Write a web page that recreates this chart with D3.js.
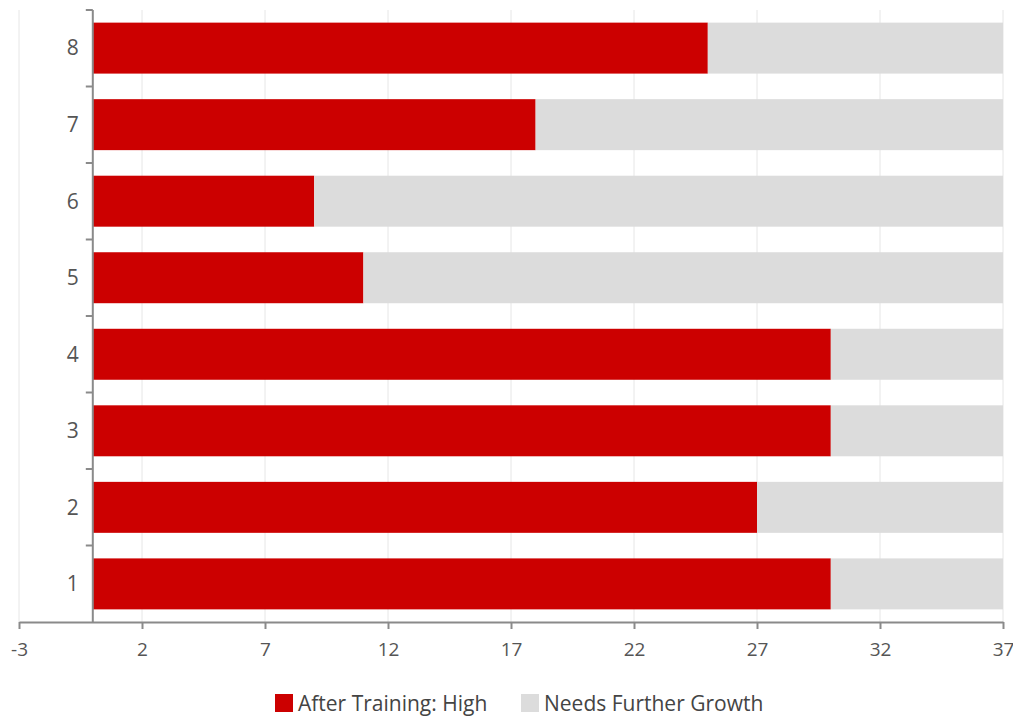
<!DOCTYPE html>
<html><head><meta charset="utf-8">
<script src="https://cdn.jsdelivr.net/npm/d3@7"></script>
<style>body{margin:0;background:#fff;} text{font-family:"Open Sans",sans-serif;}</style>
</head><body><svg id="c" width="1013" height="716"></svg>
<script>
const categories = ["1","2","3","4","5","6","7","8"];
const afterTraining = [30, 27, 30, 30, 11, 9, 18, 25];
const needsGrowth = [7, 10, 7, 7, 26, 28, 19, 12];
const xTicks = [-3, 2, 7, 12, 17, 22, 27, 32, 37];
const seriesNames = ["After Training: High", "Needs Further Growth"];
const colors = ["#cc0000", "#dcdcdc"];

const svg = d3.select("#c");
const x = d3.scaleLinear().domain([-3, 37]).range([19, 1003]);
const y = d3.scaleBand().domain(categories.slice().reverse()).range([10, 622]).paddingInner(0.334).paddingOuter(0.165);
const yb = d3.scaleBand().domain(categories.slice().reverse()).range([10, 622]);

// gridlines
svg.append("g").selectAll("line").data(xTicks).join("line")
  .attr("x1", d => x(d)).attr("x2", d => x(d)).attr("y1", 10).attr("y2", 622)
  .attr("stroke", "#e6e6e6").attr("stroke-width", 1);

const rows = categories.map((c, i) => ({c, a: afterTraining[i], b: needsGrowth[i]}));
const g = svg.append("g");
g.selectAll("rect.a").data(rows).join("rect").attr("class","a")
  .attr("x", x(0)).attr("y", d => y(d.c)).attr("height", y.bandwidth())
  .attr("width", d => x(d.a) - x(0)).attr("fill", colors[0]);
g.selectAll("rect.b").data(rows).join("rect").attr("class","b")
  .attr("x", d => x(d.a)).attr("y", d => y(d.c)).attr("height", y.bandwidth())
  .attr("width", d => x(d.a + d.b) - x(d.a)).attr("fill", colors[1]);

// x axis
const xa = svg.append("g").attr("transform", "translate(0,622)")
  .call(d3.axisBottom(x).tickValues(xTicks).tickFormat(d => String(d)).tickSize(7).tickSizeOuter(0).tickPadding(14));
xa.select(".domain").attr("stroke", "#8a8a8a").attr("stroke-width", 2);
xa.selectAll(".tick line").attr("stroke", "#8a8a8a").attr("stroke-width", 2);
xa.selectAll("text").attr("fill", "#555").style("font-size", "19px").style("font-family", "Open Sans");

// y axis
const ya = svg.append("g").attr("transform", `translate(${x(0)},0)`);
ya.append("line").attr("x1",0).attr("x2",0).attr("y1",10).attr("y2",622).attr("stroke","#8a8a8a").attr("stroke-width",2);
const bounds = categories.map(c => yb(c));
ya.selectAll("line.t").data(bounds).join("line").attr("class","t")
  .attr("x1", -7).attr("x2", 0).attr("y1", d => d).attr("y2", d => d)
  .attr("stroke", "#8a8a8a").attr("stroke-width", 2);
ya.selectAll("text").data(categories).join("text")
  .attr("x", -14).attr("y", d => y(d) + y.bandwidth()/2).attr("dy", "0.35em")
  .attr("text-anchor", "end").attr("fill", "#555").style("font-size", "21px").text(d => d);

// legend
const leg = svg.append("g").attr("transform", "translate(275,694)");
const lx = [0, 246];
seriesNames.forEach((n, i) => {
  leg.append("rect").attr("x", lx[i]).attr("y", 0).attr("width", 18).attr("height", 18).attr("fill", colors[i]);
  leg.append("text").attr("x", lx[i] + 23).attr("y", 10).attr("dy", "0.35em").attr("fill", "#444")
    .style("font-size", "21px").text(n);
});
</script></body></html>
